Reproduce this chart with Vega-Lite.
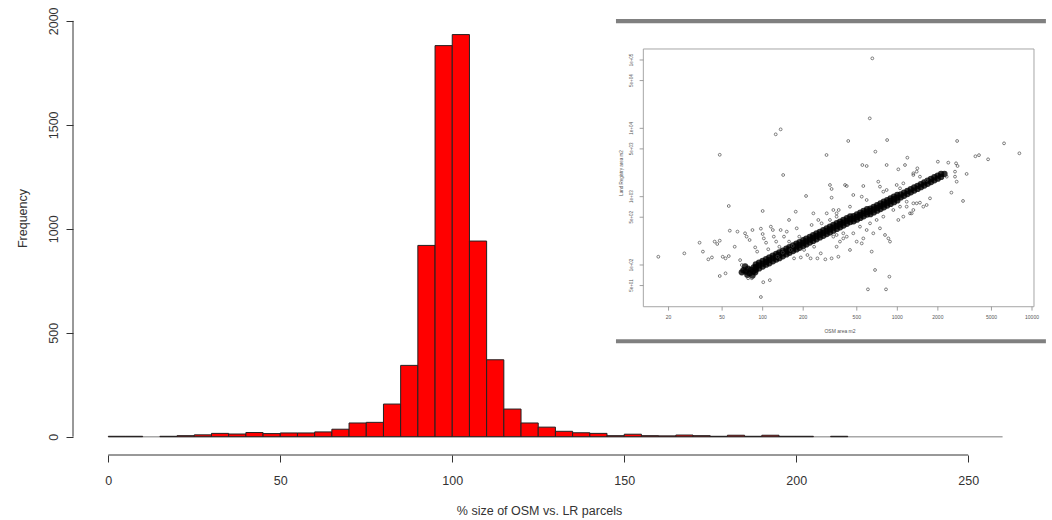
{
  "$schema": "https://vega.github.io/schema/vega-lite/v6.json",
  "width": 965,
  "height": 436,
  "autosize": {"type": "none"},
  "padding": {"left": 73, "top": 19, "right": 14, "bottom": 65},
  "background": "white",
  "config": {"view": {"stroke": null}, "font": "Liberation Sans"},
  "datasets": {
    "hist": [
      {"bin_start": 0, "bin_end": 5, "count": 2},
      {"bin_start": 5, "bin_end": 10, "count": 2},
      {"bin_start": 15, "bin_end": 20, "count": 2},
      {"bin_start": 20, "bin_end": 25, "count": 5},
      {"bin_start": 25, "bin_end": 30, "count": 9},
      {"bin_start": 30, "bin_end": 35, "count": 16},
      {"bin_start": 35, "bin_end": 40, "count": 13},
      {"bin_start": 40, "bin_end": 45, "count": 20},
      {"bin_start": 45, "bin_end": 50, "count": 15},
      {"bin_start": 50, "bin_end": 55, "count": 18},
      {"bin_start": 55, "bin_end": 60, "count": 18},
      {"bin_start": 60, "bin_end": 65, "count": 23},
      {"bin_start": 65, "bin_end": 70, "count": 36},
      {"bin_start": 70, "bin_end": 75, "count": 66},
      {"bin_start": 75, "bin_end": 80, "count": 69},
      {"bin_start": 80, "bin_end": 85, "count": 157},
      {"bin_start": 85, "bin_end": 90, "count": 343},
      {"bin_start": 90, "bin_end": 95, "count": 920},
      {"bin_start": 95, "bin_end": 100, "count": 1881},
      {"bin_start": 100, "bin_end": 105, "count": 1934},
      {"bin_start": 105, "bin_end": 110, "count": 941},
      {"bin_start": 110, "bin_end": 115, "count": 370},
      {"bin_start": 115, "bin_end": 120, "count": 133},
      {"bin_start": 120, "bin_end": 125, "count": 66},
      {"bin_start": 125, "bin_end": 130, "count": 46},
      {"bin_start": 130, "bin_end": 135, "count": 26},
      {"bin_start": 135, "bin_end": 140, "count": 19},
      {"bin_start": 140, "bin_end": 145, "count": 16},
      {"bin_start": 145, "bin_end": 150, "count": 5},
      {"bin_start": 150, "bin_end": 155, "count": 12},
      {"bin_start": 155, "bin_end": 160, "count": 5},
      {"bin_start": 160, "bin_end": 165, "count": 4},
      {"bin_start": 165, "bin_end": 170, "count": 8},
      {"bin_start": 170, "bin_end": 175, "count": 5},
      {"bin_start": 175, "bin_end": 180, "count": 2},
      {"bin_start": 180, "bin_end": 185, "count": 7},
      {"bin_start": 185, "bin_end": 190, "count": 2},
      {"bin_start": 190, "bin_end": 195, "count": 7},
      {"bin_start": 195, "bin_end": 200, "count": 2},
      {"bin_start": 200, "bin_end": 205, "count": 2},
      {"bin_start": 210, "bin_end": 215, "count": 2}
    ],
    "inset_xticks": [
      {"v": 20, "label": "20"}, {"v": 50, "label": "50"}, {"v": 100, "label": "100"},
      {"v": 200, "label": "200"}, {"v": 500, "label": "500"}, {"v": 1000, "label": "1000"},
      {"v": 2000, "label": "2000"}, {"v": 5000, "label": "5000"}, {"v": 10000, "label": "10000"}
    ],
    "inset_yticks": [
      {"v": 50, "label": "5e+01"}, {"v": 100, "label": "1e+02"}, {"v": 500, "label": "5e+02"},
      {"v": 1000, "label": "1e+03"}, {"v": 5000, "label": "5e+03"}, {"v": 10000, "label": "1e+04"},
      {"v": 50000, "label": "5e+04"}, {"v": 100000, "label": "1e+05"}
    ],
    "band": [
      {"osm": 89, "lr": 85}, {"osm": 89, "lr": 93}, {"osm": 89, "lr": 102},
      {"osm": 94, "lr": 89}, {"osm": 94, "lr": 99}, {"osm": 94, "lr": 108},
      {"osm": 100, "lr": 95}, {"osm": 100, "lr": 105}, {"osm": 100, "lr": 115},
      {"osm": 106, "lr": 101}, {"osm": 106, "lr": 111}, {"osm": 106, "lr": 122},
      {"osm": 112, "lr": 106}, {"osm": 112, "lr": 118}, {"osm": 112, "lr": 129},
      {"osm": 119, "lr": 113}, {"osm": 119, "lr": 125}, {"osm": 119, "lr": 137},
      {"osm": 126, "lr": 120}, {"osm": 126, "lr": 132}, {"osm": 126, "lr": 145},
      {"osm": 133, "lr": 126}, {"osm": 133, "lr": 140}, {"osm": 133, "lr": 153},
      {"osm": 141, "lr": 134}, {"osm": 141, "lr": 148}, {"osm": 141, "lr": 162},
      {"osm": 150, "lr": 143}, {"osm": 150, "lr": 158}, {"osm": 150, "lr": 173},
      {"osm": 158, "lr": 150}, {"osm": 158, "lr": 166}, {"osm": 158, "lr": 182},
      {"osm": 168, "lr": 160}, {"osm": 168, "lr": 176}, {"osm": 168, "lr": 193},
      {"osm": 178, "lr": 169}, {"osm": 178, "lr": 187}, {"osm": 178, "lr": 205},
      {"osm": 188, "lr": 179}, {"osm": 188, "lr": 197}, {"osm": 188, "lr": 216},
      {"osm": 200, "lr": 190}, {"osm": 200, "lr": 210}, {"osm": 200, "lr": 230},
      {"osm": 211, "lr": 200}, {"osm": 211, "lr": 222}, {"osm": 211, "lr": 243},
      {"osm": 224, "lr": 213}, {"osm": 224, "lr": 235}, {"osm": 224, "lr": 258},
      {"osm": 237, "lr": 225}, {"osm": 237, "lr": 249}, {"osm": 237, "lr": 273},
      {"osm": 251, "lr": 238}, {"osm": 251, "lr": 264}, {"osm": 251, "lr": 289},
      {"osm": 266, "lr": 253}, {"osm": 266, "lr": 279}, {"osm": 266, "lr": 306},
      {"osm": 282, "lr": 268}, {"osm": 282, "lr": 296}, {"osm": 282, "lr": 324},
      {"osm": 299, "lr": 284}, {"osm": 299, "lr": 314}, {"osm": 299, "lr": 344},
      {"osm": 316, "lr": 300}, {"osm": 316, "lr": 332}, {"osm": 316, "lr": 363},
      {"osm": 335, "lr": 318}, {"osm": 335, "lr": 352}, {"osm": 335, "lr": 385},
      {"osm": 355, "lr": 337}, {"osm": 355, "lr": 373}, {"osm": 355, "lr": 408},
      {"osm": 376, "lr": 357}, {"osm": 376, "lr": 395}, {"osm": 376, "lr": 432},
      {"osm": 398, "lr": 378}, {"osm": 398, "lr": 418}, {"osm": 398, "lr": 458},
      {"osm": 422, "lr": 401}, {"osm": 422, "lr": 443}, {"osm": 422, "lr": 485},
      {"osm": 447, "lr": 425}, {"osm": 447, "lr": 469}, {"osm": 447, "lr": 514},
      {"osm": 473, "lr": 435}, {"osm": 473, "lr": 478}, {"osm": 473, "lr": 520},
      {"osm": 501, "lr": 461}, {"osm": 501, "lr": 506}, {"osm": 501, "lr": 551},
      {"osm": 531, "lr": 489}, {"osm": 531, "lr": 536}, {"osm": 531, "lr": 584},
      {"osm": 562, "lr": 517}, {"osm": 562, "lr": 568}, {"osm": 562, "lr": 618},
      {"osm": 596, "lr": 548}, {"osm": 596, "lr": 602}, {"osm": 596, "lr": 656},
      {"osm": 631, "lr": 555}, {"osm": 631, "lr": 612}, {"osm": 631, "lr": 669},
      {"osm": 668, "lr": 588}, {"osm": 668, "lr": 648}, {"osm": 668, "lr": 708},
      {"osm": 708, "lr": 623}, {"osm": 708, "lr": 687}, {"osm": 708, "lr": 750},
      {"osm": 750, "lr": 660}, {"osm": 750, "lr": 728}, {"osm": 750, "lr": 795},
      {"osm": 794, "lr": 699}, {"osm": 794, "lr": 770}, {"osm": 794, "lr": 842},
      {"osm": 841, "lr": 740}, {"osm": 841, "lr": 816}, {"osm": 841, "lr": 891},
      {"osm": 891, "lr": 784}, {"osm": 891, "lr": 864}, {"osm": 891, "lr": 944},
      {"osm": 944, "lr": 831}, {"osm": 944, "lr": 916}, {"osm": 944, "lr": 1001},
      {"osm": 1000, "lr": 880}, {"osm": 1000, "lr": 970}, {"osm": 1000, "lr": 1060},
      {"osm": 1059, "lr": 974}, {"osm": 1059, "lr": 1080},
      {"osm": 1122, "lr": 1032}, {"osm": 1122, "lr": 1144},
      {"osm": 1189, "lr": 1094}, {"osm": 1189, "lr": 1213},
      {"osm": 1259, "lr": 1158}, {"osm": 1259, "lr": 1284},
      {"osm": 1334, "lr": 1227}, {"osm": 1334, "lr": 1361},
      {"osm": 1413, "lr": 1300}, {"osm": 1413, "lr": 1441},
      {"osm": 1496, "lr": 1376}, {"osm": 1496, "lr": 1526},
      {"osm": 1585, "lr": 1458}, {"osm": 1585, "lr": 1617},
      {"osm": 1679, "lr": 1545}, {"osm": 1679, "lr": 1713},
      {"osm": 1778, "lr": 1636}, {"osm": 1778, "lr": 1814},
      {"osm": 1884, "lr": 1733}, {"osm": 1884, "lr": 1922},
      {"osm": 1995, "lr": 1835}, {"osm": 1995, "lr": 2035},
      {"osm": 2113, "lr": 1944}, {"osm": 2113, "lr": 2155},
      {"osm": 2239, "lr": 2150},
      {"osm": 70, "lr": 78}, {"osm": 72, "lr": 84}, {"osm": 75, "lr": 80}, {"osm": 78, "lr": 88},
      {"osm": 80, "lr": 76}, {"osm": 82, "lr": 85}, {"osm": 85, "lr": 80}, {"osm": 86, "lr": 92},
      {"osm": 74, "lr": 95}, {"osm": 88, "lr": 78}, {"osm": 77, "lr": 72}, {"osm": 84, "lr": 70}
    ],
    "scatter": [
      {"osm": 652, "lr": 105700}, {"osm": 624, "lr": 14000}, {"osm": 125, "lr": 8170}, {"osm": 136, "lr": 9660},
      {"osm": 48, "lr": 4100}, {"osm": 432, "lr": 6530}, {"osm": 840, "lr": 6740}, {"osm": 298, "lr": 4070},
      {"osm": 687, "lr": 4560}, {"osm": 142, "lr": 2075}, {"osm": 2780, "lr": 6530}, {"osm": 6200, "lr": 6030},
      {"osm": 8060, "lr": 4310}, {"osm": 3800, "lr": 3900}, {"osm": 4040, "lr": 4050}, {"osm": 4720, "lr": 3520},
      {"osm": 3270, "lr": 2150}, {"osm": 3075, "lr": 865}, {"osm": 2520, "lr": 1146}, {"osm": 550, "lr": 2905},
      {"osm": 592, "lr": 2810}, {"osm": 833, "lr": 2905}, {"osm": 1187, "lr": 3720}, {"osm": 2000, "lr": 3250},
      {"osm": 2390, "lr": 3145}, {"osm": 2730, "lr": 3075}, {"osm": 2800, "lr": 2810}, {"osm": 210, "lr": 1023},
      {"osm": 100, "lr": 617}, {"osm": 56, "lr": 730}, {"osm": 16.8, "lr": 132}, {"osm": 26.2, "lr": 148},
      {"osm": 34, "lr": 212}, {"osm": 48, "lr": 69}, {"osm": 53, "lr": 75.5}, {"osm": 97, "lr": 34},
      {"osm": 101, "lr": 56}, {"osm": 113, "lr": 60}, {"osm": 605, "lr": 44}, {"osm": 824, "lr": 44},
      {"osm": 873, "lr": 67.5}, {"osm": 683, "lr": 84.5}, {"osm": 78, "lr": 64}, {"osm": 83, "lr": 64},
      {"osm": 1017, "lr": 2512}, {"osm": 1140, "lr": 2905}, {"osm": 1408, "lr": 2598}, {"osm": 2681, "lr": 2323},
      {"osm": 1315, "lr": 2075},
      {"osm": 36, "lr": 157}, {"osm": 39.5, "lr": 121}, {"osm": 42, "lr": 129}, {"osm": 44, "lr": 220},
      {"osm": 46, "lr": 203}, {"osm": 48, "lr": 227}, {"osm": 50.5, "lr": 132}, {"osm": 53, "lr": 125},
      {"osm": 56, "lr": 135}, {"osm": 57, "lr": 318}, {"osm": 62, "lr": 185}, {"osm": 65, "lr": 308},
      {"osm": 68, "lr": 118}, {"osm": 70, "lr": 100}, {"osm": 74, "lr": 291}, {"osm": 76, "lr": 260},
      {"osm": 80, "lr": 232}, {"osm": 84, "lr": 325}, {"osm": 88, "lr": 181}, {"osm": 91, "lr": 157},
      {"osm": 97, "lr": 340}, {"osm": 100, "lr": 284}, {"osm": 102, "lr": 245}, {"osm": 106, "lr": 212},
      {"osm": 110, "lr": 170}, {"osm": 115, "lr": 364}, {"osm": 119, "lr": 325}, {"osm": 121, "lr": 260},
      {"osm": 126, "lr": 220}, {"osm": 129, "lr": 132}, {"osm": 133, "lr": 185}, {"osm": 136, "lr": 325},
      {"osm": 141, "lr": 152}, {"osm": 144, "lr": 260}, {"osm": 151, "lr": 308}, {"osm": 157, "lr": 220},
      {"osm": 161, "lr": 166}, {"osm": 167, "lr": 190}, {"osm": 171, "lr": 125}, {"osm": 179, "lr": 344},
      {"osm": 187, "lr": 260}, {"osm": 192, "lr": 129}, {"osm": 203, "lr": 166}, {"osm": 215, "lr": 140},
      {"osm": 227, "lr": 125}, {"osm": 241, "lr": 185}, {"osm": 255, "lr": 125}, {"osm": 270, "lr": 148},
      {"osm": 292, "lr": 121}, {"osm": 176, "lr": 603}, {"osm": 157, "lr": 456}, {"osm": 238, "lr": 570},
      {"osm": 259, "lr": 456}, {"osm": 231, "lr": 385}, {"osm": 274, "lr": 407}, {"osm": 299, "lr": 570},
      {"osm": 335, "lr": 638}, {"osm": 354, "lr": 510}, {"osm": 316, "lr": 456}, {"osm": 367, "lr": 638},
      {"osm": 316, "lr": 1482}, {"osm": 325, "lr": 1295}, {"osm": 325, "lr": 967}, {"osm": 325, "lr": 125},
      {"osm": 409, "lr": 1482}, {"osm": 421, "lr": 1432}, {"osm": 559, "lr": 1432}, {"osm": 722, "lr": 1658},
      {"osm": 743, "lr": 1401}, {"osm": 989, "lr": 1482}, {"osm": 1047, "lr": 1324}, {"osm": 1315, "lr": 2195},
      {"osm": 1392, "lr": 2323}, {"osm": 1651, "lr": 1754}, {"osm": 2325, "lr": 1962}, {"osm": 2758, "lr": 1658},
      {"osm": 2681, "lr": 1962}, {"osm": 1748, "lr": 945}, {"osm": 1651, "lr": 755}, {"osm": 1315, "lr": 799},
      {"osm": 1173, "lr": 714}, {"osm": 471, "lr": 1058}, {"osm": 544, "lr": 1000}, {"osm": 787, "lr": 1184},
      {"osm": 335, "lr": 260}, {"osm": 354, "lr": 185}, {"osm": 375, "lr": 220}, {"osm": 421, "lr": 260},
      {"osm": 445, "lr": 166}, {"osm": 499, "lr": 220}, {"osm": 544, "lr": 207}, {"osm": 559, "lr": 245},
      {"osm": 592, "lr": 325}, {"osm": 663, "lr": 291}, {"osm": 743, "lr": 344}, {"osm": 810, "lr": 275},
      {"osm": 858, "lr": 245}, {"osm": 882, "lr": 220}, {"osm": 1017, "lr": 456}, {"osm": 1108, "lr": 510},
      {"osm": 1242, "lr": 570}, {"osm": 1315, "lr": 638}, {"osm": 1392, "lr": 799}, {"osm": 1560, "lr": 714},
      {"osm": 645, "lr": 157}, {"osm": 397, "lr": 291}, {"osm": 365, "lr": 132},
      {"osm": 354, "lr": 275}, {"osm": 397, "lr": 245}, {"osm": 471, "lr": 291}, {"osm": 528, "lr": 364},
      {"osm": 627, "lr": 407}, {"osm": 702, "lr": 456}, {"osm": 787, "lr": 510}, {"osm": 934, "lr": 638},
      {"osm": 1047, "lr": 714}, {"osm": 1173, "lr": 845}, {"osm": 354, "lr": 570}, {"osm": 445, "lr": 714},
      {"osm": 592, "lr": 894}, {"osm": 833, "lr": 1252}, {"osm": 1108, "lr": 1567}, {"osm": 1472, "lr": 1962},
      {"osm": 1472, "lr": 817}, {"osm": 1278, "lr": 570}
    ]
  },
  "layer": [
    {
      "layer": [
        {
          "data": {"values": [{}]},
          "mark": {"type": "rule", "color": "#a8a8a8", "strokeWidth": 1.5},
          "encoding": {"x": {"datum": 0}, "x2": {"datum": 260}, "y": {"datum": 0}}
        },
        {
          "data": {"name": "hist"},
          "mark": {"type": "rect", "fill": "#ff0000", "stroke": "#222222", "strokeWidth": 1},
          "encoding": {
            "x": {
              "field": "bin_start", "type": "quantitative",
              "scale": {"domain": [-10.26, 270.3], "nice": false, "zero": false},
              "axis": {
                "orient": "bottom", "title": "% size of OSM vs. LR parcels",
                "values": [0, 50, 100, 150, 200, 250], "format": "d", "domain": false, "grid": false,
                "tickSize": 7, "tickColor": "#333333", "tickWidth": 1,
                "labelFont": "Liberation Sans", "labelFontSize": 12.5, "labelColor": "#333333",
                "labelPadding": 18, "labelBaseline": "middle", "labelFlush": false,
                "titleFont": "Liberation Sans", "titleFontSize": 12.5, "titleFontWeight": "normal",
                "titleColor": "#333333", "titleX": 466, "titleY": 55, "titleBaseline": "middle", "titleAlign": "center"
              }
            },
            "x2": {"field": "bin_end"},
            "y": {
              "field": "count", "type": "quantitative",
              "scale": {"domain": [-88, 2009], "nice": false, "zero": false},
              "axis": {
                "orient": "left", "title": "Frequency",
                "values": [0, 500, 1000, 1500, 2000], "format": "d", "domain": false, "grid": false,
                "tickSize": 7, "tickColor": "#333333", "tickWidth": 1,
                "labelFont": "Liberation Sans", "labelFontSize": 12.5, "labelColor": "#333333",
                "labelAngle": 270, "labelAlign": "center", "labelBaseline": "middle", "labelPadding": 13,
                "titleFont": "Liberation Sans", "titleFontSize": 12.5, "titleFontWeight": "normal",
                "titleColor": "#333333", "titleAngle": 270, "titleX": -51, "titleY": 199,
                "titleBaseline": "middle", "titleAlign": "center"
              }
            },
            "y2": {"datum": 0}
          }
        },
        {
          "data": {"values": [{}]},
          "mark": {"type": "rule", "color": "#333333", "strokeWidth": 1},
          "encoding": {"x": {"datum": 0}, "x2": {"datum": 250}, "y": {"datum": -88}}
        },
        {
          "data": {"values": [{}]},
          "mark": {"type": "rule", "color": "#333333", "strokeWidth": 1},
          "encoding": {"x": {"datum": -10.26}, "y": {"datum": 0}, "y2": {"datum": 2000}}
        },
        {
          "data": {"values": [{}]},
          "mark": {"type": "rect", "fill": "#808080"},
          "encoding": {"x": {"datum": 147.6}, "x2": {"datum": 272.6}, "y": {"datum": 2009}, "y2": {"datum": 1988}}
        },
        {
          "data": {"values": [{}]},
          "mark": {"type": "rect", "fill": "#808080"},
          "encoding": {"x": {"datum": 147.6}, "x2": {"datum": 272.6}, "y": {"datum": 468.5}, "y2": {"datum": 449.3}}
        }
      ]
    },
    {
      "layer": [
        {
          "data": {"values": [{}]},
          "mark": {"type": "rect", "filled": false, "stroke": "#a6a6a6", "strokeWidth": 1},
          "encoding": {
            "x": {"datum": 13.0, "type": "quantitative", "axis": null},
            "x2": {"datum": 10346},
            "y": {"datum": 144900, "type": "quantitative", "axis": null},
            "y2": {"datum": 24.5}
          }
        },
        {
          "data": {"name": "inset_xticks"},
          "mark": {"type": "rule", "color": "#888888", "strokeWidth": 0.8},
          "encoding": {
            "x": {"field": "v", "type": "quantitative", "axis": null},
            "y": {"datum": 24.5, "type": "quantitative", "axis": null},
            "y2": {"datum": 21.5}
          }
        },
        {
          "data": {"name": "inset_xticks"},
          "mark": {"type": "text", "fontSize": 5, "color": "#555555", "font": "Liberation Sans", "baseline": "middle", "align": "center"},
          "encoding": {
            "x": {"field": "v", "type": "quantitative", "axis": null},
            "y": {"datum": 17.5, "type": "quantitative", "axis": null},
            "text": {"field": "label"}
          }
        },
        {
          "data": {"name": "inset_yticks"},
          "mark": {"type": "rule", "color": "#888888", "strokeWidth": 0.8},
          "encoding": {
            "y": {"field": "v", "type": "quantitative", "axis": null},
            "x": {"datum": 13.0, "type": "quantitative", "axis": null},
            "x2": {"datum": 12.2}
          }
        },
        {
          "data": {"name": "inset_yticks"},
          "mark": {"type": "text", "fontSize": 4.5, "color": "#555555", "font": "Liberation Sans", "baseline": "middle", "align": "center", "angle": 270},
          "encoding": {
            "y": {"field": "v", "type": "quantitative", "axis": null},
            "x": {"datum": 10.71, "type": "quantitative", "axis": null},
            "text": {"field": "label"}
          }
        },
        {
          "data": {"values": [{"label": "OSM area m2"}]},
          "mark": {"type": "text", "fontSize": 5, "color": "#555555", "font": "Liberation Sans", "baseline": "middle", "align": "center"},
          "encoding": {
            "x": {"datum": 375.2, "type": "quantitative", "axis": null},
            "y": {"datum": 10.93, "type": "quantitative", "axis": null},
            "text": {"field": "label"}
          }
        },
        {
          "data": {"values": [{"label": "Land Registry area m2"}]},
          "mark": {"type": "text", "fontSize": 4.5, "color": "#555555", "font": "Liberation Sans", "baseline": "middle", "align": "center", "angle": 270},
          "encoding": {
            "x": {"datum": 8.98, "type": "quantitative", "axis": null},
            "y": {"datum": 2220, "type": "quantitative", "axis": null},
            "text": {"field": "label"}
          }
        },
        {
          "data": {"name": "band"},
          "mark": {"type": "circle", "color": "#000000", "size": 40, "opacity": 0.8},
          "encoding": {
            "x": {"field": "osm", "type": "quantitative", "axis": null},
            "y": {"field": "lr", "type": "quantitative", "axis": null}
          }
        },
        {
          "data": {"name": "scatter"},
          "mark": {"type": "point", "shape": "circle", "filled": false, "stroke": "#444444", "strokeWidth": 0.8, "size": 8, "opacity": 0.85},
          "encoding": {
            "x": {
              "field": "osm", "type": "quantitative",
              "scale": {"type": "log", "domain": [0.0007566, 11080], "nice": false},
              "axis": null
            },
            "y": {
              "field": "lr", "type": "quantitative",
              "scale": {"type": "log", "domain": [0.1657, 398100], "nice": false},
              "axis": null
            }
          }
        }
      ]
    }
  ],
  "resolve": {
    "scale": {"x": "independent", "y": "independent"},
    "axis": {"x": "independent", "y": "independent"}
  }
}
